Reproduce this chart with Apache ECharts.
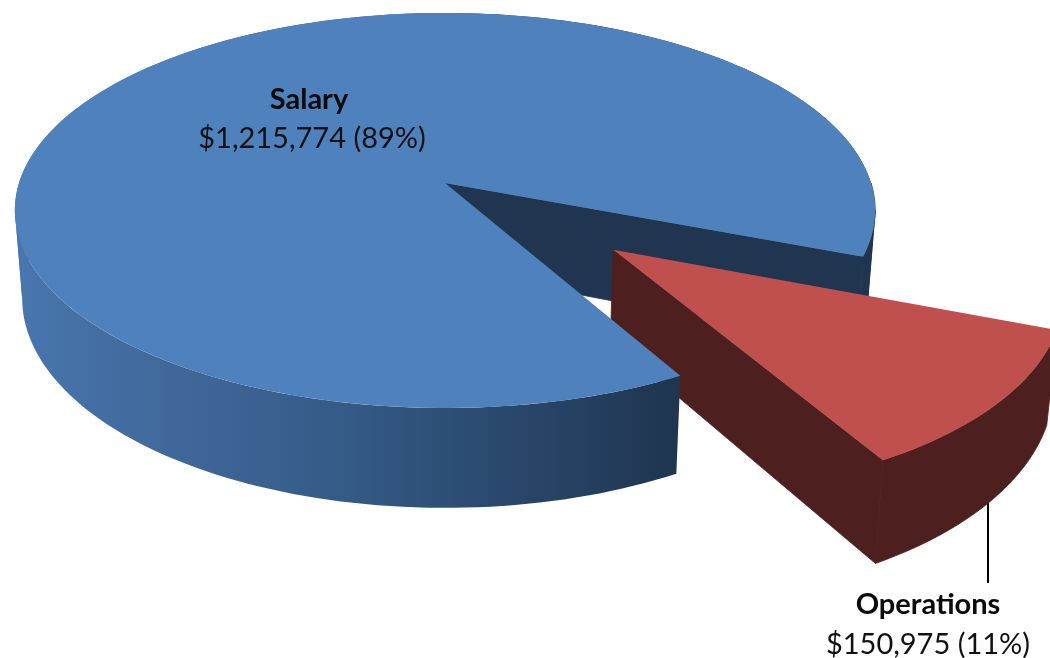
<!DOCTYPE html>
<html>
<head>
<meta charset="utf-8">
<style>html,body{margin:0;padding:0;background:#fff}#c{width:1050px;height:658px}</style>
<script src="https://cdn.jsdelivr.net/npm/echarts@6/dist/echarts.min.js"></script>
</head>
<body>
<div id="c"></div>
<script>
var categories = ['Salary', 'Operations'];
var values = [1215774, 150975];
var explode = [0, 0.5];
var radii = [1, 0.99];

// layout of the perspective disc
var CX = 445, CY = 183, A = 426, B = 193.7, P = 0.139, DEPTH = 86, SHRINK = 0.983, START = 21.2;
var SIL_L = 172, SIL_R = 368; // silhouette angles, where the wall folds behind itself
var LABELS = [[309, 100, 312, 139], [928, 605, 928, 645]];
var total = values.reduce(function (a, b) { return a + b; }, 0);

function project(X, Y, low) {
  var w = 1 - P * Y;
  var sx = A * X / w, sy = B * Y / w;
  if (low) { sx *= SHRINK; sy += DEPTH / w; }
  return [CX + sx, CY + sy];
}
function rim(ox, oy, r, deg, low) {
  var t = deg * Math.PI / 180;
  return project(ox + r * Math.cos(t), oy + r * Math.sin(t), low);
}
function arc(ox, oy, r, a0, a1, low) {
  var pts = [], n = Math.max(2, Math.ceil(Math.abs(a1 - a0) / 1.5));
  for (var i = 0; i <= n; i++) pts.push(rim(ox, oy, r, a0 + (a1 - a0) * i / n, low));
  return pts;
}
function wall(ox, oy, r, a0, a1) {
  return arc(ox, oy, r, a0, a1, false).concat(arc(ox, oy, r, a0, a1, true).reverse());
}
function poly(points, fill, z2, stroke) {
  return { type: 'polygon', z2: z2, silent: true, shape: { points: points },
    style: stroke ? { fill: fill, stroke: fill, lineWidth: 0.8 } : { fill: fill } };
}
function text(x, y, str, font, fill) {
  return { type: 'text', z2: 10, silent: true, x: x, y: y,
    style: { text: str, font: font, fill: fill, align: 'center', verticalAlign: 'middle' } };
}

var wallGradient = {
  type: 'linear', x: 14, y: 0, x2: 678, y2: 0, global: true,
  colorStops: [
    { offset: 0, color: '#4876af' }, { offset: 0.25, color: '#3f6799' },
    { offset: 0.5, color: '#345a86' }, { offset: 0.75, color: '#29476b' },
    { offset: 1, color: '#1f3550' }
  ]
};

function renderSlice(params, api) {
  var i = params.dataIndex;
  var opSpan = values[1] / total * 360;
  var a0 = i === 1 ? START : START + opSpan;
  var a1 = i === 1 ? START + opSpan : START + 360;
  var mid = (a0 + a1) / 2 * Math.PI / 180;
  var ox = explode[i] * Math.cos(mid), oy = explode[i] * Math.sin(mid), r = radii[i];
  var apex = project(ox, oy, false), apexLow = project(ox, oy, true);
  var rimEnd = rim(ox, oy, r, a1, false), rimEndLow = rim(ox, oy, r, a1, true);
  var ch = [];

  if (i === 0) {
    var dark = '#1f3550';
    ch.push(poly([apex, rimEnd, rimEndLow, apexLow], dark, 1, true));
    ch.push(poly(wall(ox, oy, r, 360, SIL_R), dark, 1, true));
    ch.push(poly(wall(ox, oy, r, SIL_R, a1), dark, 1, true));
    ch.push(poly(wall(ox, oy, r, a0, SIL_L), wallGradient, 5));
    ch.push(poly(wall(ox, oy, r, SIL_L, 360), wallGradient, 5));
    ch.push(poly([apex].concat(arc(ox, oy, r, a0, a1, false)), '#4f81bd', 6));
  } else {
    var maroon = '#4d1f1e';
    ch.push({ type: 'line', z2: 2, silent: true,
      shape: { x1: 988, y1: 470, x2: 988, y2: 583 }, style: { stroke: '#000', lineWidth: 2 } });
    ch.push(poly([apex, rimEnd, rimEndLow, apexLow], maroon, 3, true));
    ch.push(poly(wall(ox, oy, r, a0, a1), maroon, 3, true));
    ch.push(poly([apex].concat(arc(ox, oy, r, a0, a1, false)), '#c0504d', 4));
  }
  var v = values[i], L = LABELS[i];
  ch.push(text(L[0], L[1], categories[i], 'bold 29px Lato', '#0b0b0b'));
  ch.push(text(L[2], L[3], '$' + v.toLocaleString('en-US') + ' (' + Math.round(v / total * 100) + '%)', '29px Lato', '#111'));
  return { type: 'group', children: ch };
}

var chart = echarts.init(document.getElementById('c'), null, { renderer: 'canvas' });
chart.setOption({
  animation: false,
  backgroundColor: '#ffffff',
  series: [{
    type: 'custom',
    coordinateSystem: 'none',
    renderItem: renderSlice,
    data: values,
    clip: false
  }]
});
</script>
</body>
</html>
